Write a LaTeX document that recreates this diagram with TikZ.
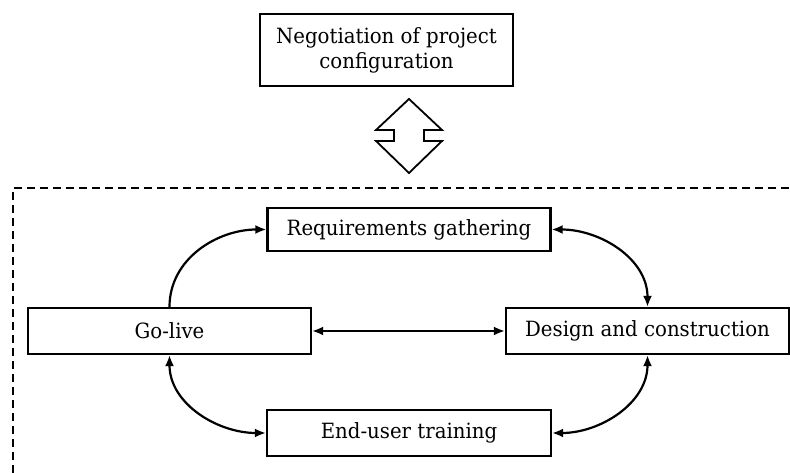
\documentclass[tikz,border=0pt]{standalone}
\usepackage{fontspec}
\setmainfont{DejaVu Serif}[FakeStretch=0.94]
\usetikzlibrary{arrows.meta}
\tikzset{
  >={Latex[length=11pt,width=9pt]},
  box/.style={draw, line width=2.2pt, inner sep=0pt, align=center, font=\fontsize{21}{25}\selectfont},
  link/.style={line width=2.2pt},
}

\begin{document}
\begin{tikzpicture}[x=1pt, y=1pt]
  \useasboundingbox (0,0) rectangle (790,473);
  \node[box, minimum width=253pt, minimum height=72pt] (neg) at (386.5,423) {Negotiation of project\\configuration};
  % hollow double arrow
  \draw[line width=1.8pt] (409,374) -- (376,343) -- (394,343) -- (394,332) -- (376,332) -- (409,300)
    -- (442,332) -- (424,332) -- (424,343) -- (442,343) -- cycle;
  % dashed frame
  \draw[line width=2pt, dash pattern=on 8pt off 5pt] (13,0) -- (13,285) -- (790,285);
  \node[box, minimum width=283pt, minimum height=43pt] (req) at (409,243.5) {Requirements gathering};
  \node[box, minimum width=283pt, minimum height=46pt] (golive) at (169.5,142) {Go-live};
  \node[box, minimum width=283pt, minimum height=46pt] (design) at (647.5,142) {Design and construction};
  \node[box, minimum width=284pt, minimum height=46pt] (train) at (409,40) {End-user training};
  \draw[link, ->] (golive.north) to[out=90, in=180] (req.west);
  \draw[link, <->] (req.east) to[out=0, in=90] (design.north);
  \draw[link, <->] (design.south) to[out=-90, in=0] (train.east);
  \draw[link, <->] (golive.south) to[out=-90, in=180] (train.west);
  \draw[link, <->] (golive.east) -- (design.west);
\end{tikzpicture}
\end{document}
